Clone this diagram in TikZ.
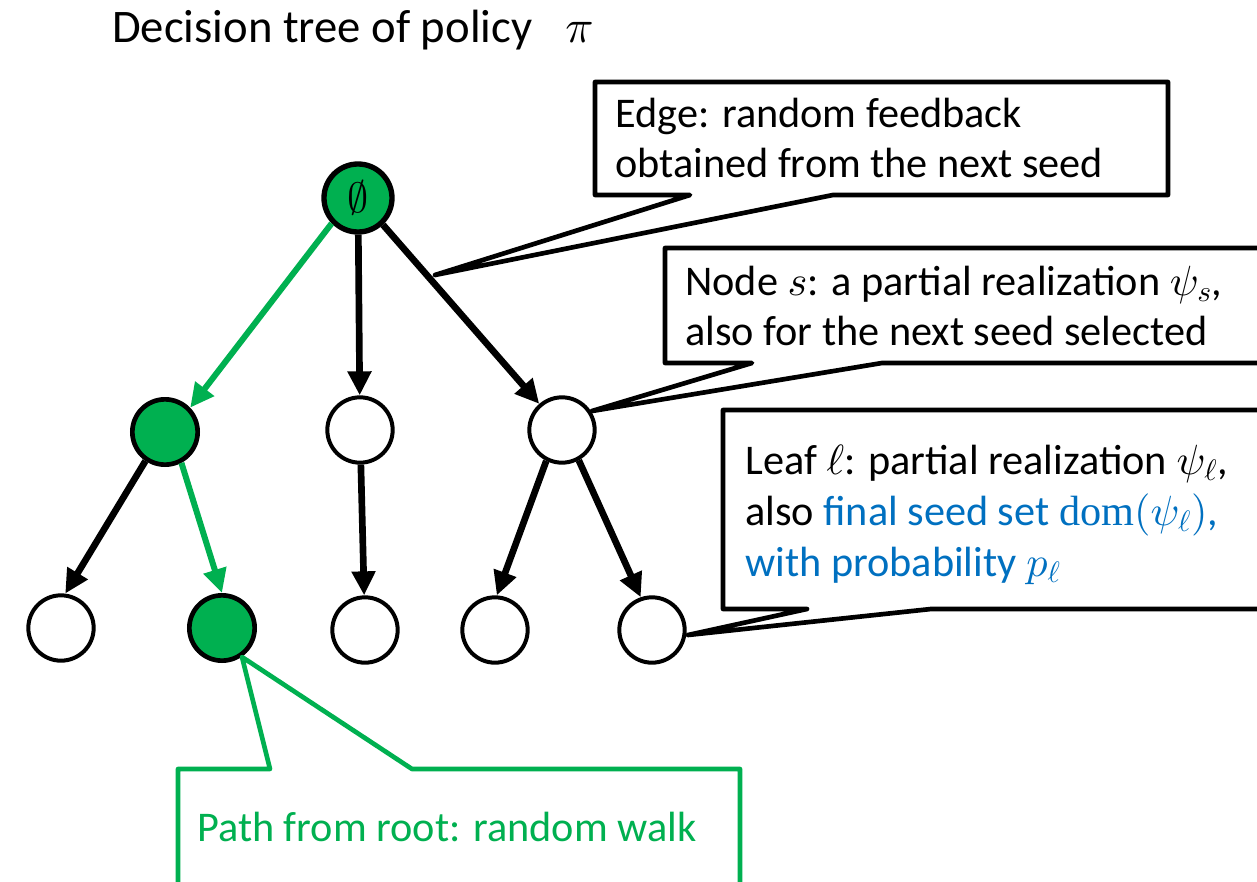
\documentclass[tikz,border=0pt]{standalone}
\usepackage{fontspec}
\setmainfont{Carlito}
\newfontfamily\domfont{Liberation Serif}
\DeclareFontShape{OML}{cmm}{m}{it}{<->cmmi10}{}
\DeclareFontShape{OMS}{cmsy}{m}{n}{<->cmsy10}{}
\DeclareFontShape{OT1}{cmr}{m}{n}{<->cmr10}{}
\usetikzlibrary{arrows.meta}
\definecolor{pgreen}{HTML}{00B050}
\definecolor{pblue}{HTML}{0070C0}
\begin{document}
\begin{tikzpicture}[x=0.75pt,y=-0.75pt,
  tnode/.style={circle,draw=black,line width=3pt,minimum size=49pt,inner sep=0pt,fill=white},
  gnode/.style={tnode,fill=pgreen},
  edge/.style={line width=5pt,-{Triangle[length=18pt,width=17pt]}},
  gedge/.style={edge,draw=pgreen,line width=4.5pt},
  callout/.style={draw=black,line width=3.5pt,line join=round,fill=white},
  gcallout/.style={callout,draw=pgreen},
  txt/.style={anchor=base west,inner sep=0pt,font=\fontsize{31.7pt}{37.5pt}\selectfont},
  ttl/.style={anchor=base west,inner sep=0pt,font=\fontsize{35pt}{42pt}\selectfont}
]
\useasboundingbox (0,0) rectangle (1257,882);
\clip (0,0) rectangle (1257,882);

% title
\node[ttl] (title) at (112,42) {Decision tree of policy};
\node[ttl] (pi) at (565,42) {$\pi$};

% tree nodes
\node[gnode,line width=4pt,minimum size=51pt] (root) at (358,198) {\fontsize{31.7pt}{37.5pt}\selectfont$\emptyset$};
\node[gnode,line width=3.5pt] (l1) at (165,432) {};
\node[tnode] (m) at (360,430) {};
\node[tnode] (r) at (562,430) {};
\node[tnode] (c1) at (61,628) {};
\node[gnode,line width=3.5pt] (c2) at (222,628) {};
\node[tnode] (c3) at (365,630) {};
\node[tnode] (c4) at (495,630) {};
\node[tnode] (c5) at (652,630) {};

% edges
\draw[edge] (root) -- (m);
\draw[edge] (root.-47) -- (r.131);
\draw[edge] (m) -- (c3);
\draw[edge] (r.243) -- (c4.87);
\draw[edge] (r.-61) -- (c5.109);
\draw[edge] (l1.236) -- (c1.83);
\draw[gedge] (root.224) -- (l1.44);
\draw[gedge] (l1.-62) -- (c2.90);

% callout tips
\coordinate (tipE) at (435,275);
\coordinate (tipS) at (592,411);
\coordinate (tipL) at (688,635);
\coordinate (tipG) at (242,657);

% callout: edge
\draw[callout] (595,82) -- (1168,82) -- (1168,195) -- (833,195) -- (tipE) -- (690,195) -- (595,195) -- cycle;
\node[txt] (e1) at (615,127) {Edge: random feedback};
\node[txt] (e2) at (615,177) {obtained from the next seed};

% callout: node s
\draw[callout] (665,248) -- (1275,248) -- (1275,363) -- (882,363) -- (tipS) -- (752,363) -- (665,363) -- cycle;
\node[txt] (s1) at (685,295) {Node $s$: a partial realization $\psi_s$,};
\node[txt] (s2) at (685,345) {also for the next seed selected};

% callout: leaf
\draw[callout] (723,410) -- (1275,410) -- (1275,609) -- (931,609) -- (tipL) -- (807,609) -- (723,609) -- cycle;
\node[txt] (f1) at (745,474) {Leaf $\ell$: partial realization $\psi_\ell$,};
\node[txt] (f2) at (745,525) {also \textcolor{pblue}{final seed set {\domfont dom}$(\psi_\ell)$,}};
\node[txt] (f3) at (745,576) {\textcolor{pblue}{with probability $p_\ell$}};

% callout: path (green)
\draw[gcallout] (178,900) -- (178,769) -- (270,769) -- (tipG) -- (412,769) -- (740,769) -- (740,900);
\node[txt,text=pgreen] (g1) at (197,841) {Path from root: random walk};
\end{tikzpicture}
\end{document}
